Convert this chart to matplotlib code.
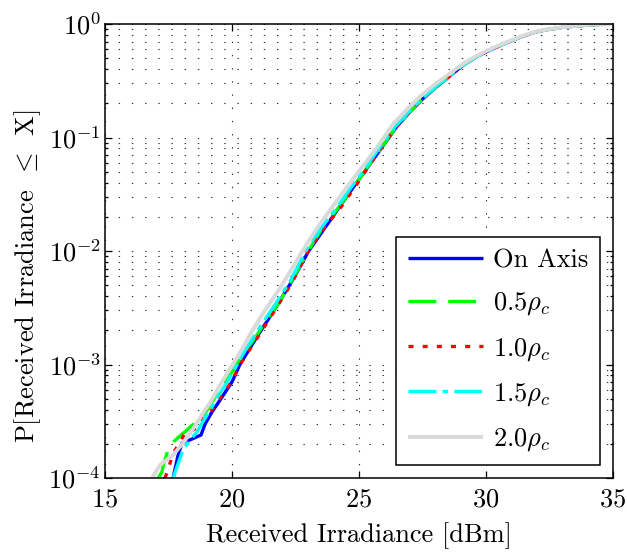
import numpy as np
import matplotlib
matplotlib.use("Agg")
import matplotlib.pyplot as plt
from matplotlib.ticker import LogLocator, FixedLocator, NullLocator

# ---------------- data ----------------
labels = ["On Axis", r"$0.5\rho_c$", r"$1.0\rho_c$", r"$1.5\rho_c$", r"$2.0\rho_c$"]

x_on_axis = [17.68, 17.87, 18.03, 18.43, 18.78, 18.94, 19.21, 19.53, 20.00, 20.31, 21.00,
             21.72, 22.40, 23.02, 23.80, 24.58, 25.38, 26.18, 26.48, 27.01, 27.53, 28.06,
             28.58, 29.11, 29.63, 30.16, 30.81, 31.47, 31.99, 32.40, 33.00, 33.70, 34.30, 35.00]
logp_on_axis = [-4.0, -3.806, -3.692, -3.656, -3.621, -3.524, -3.419, -3.313, -3.154, -3.0, -2.75,
                -2.5, -2.25, -2.0, -1.75, -1.5, -1.25, -1.0, -0.905, -0.773, -0.655, -0.552,
                -0.458, -0.361, -0.288, -0.229, -0.165, -0.106, -0.068, -0.050, -0.030, -0.015, -0.005, 0.0]

x_05 = [17.09, 17.24, 17.30, 17.48, 17.70, 17.95, 18.23, 18.40, 18.70, 18.94, 19.30, 19.62,
        20.02, 20.40, 20.80, 21.10, 21.45, 21.87, 22.38, 23.00, 23.55, 24.22, 24.90, 25.82,
        26.47, 27.00, 27.52, 28.05, 28.57, 29.10, 29.62, 30.15, 30.80, 31.46, 31.99, 32.40,
        33.00, 33.70, 34.30, 35.00]
logp_05 = [-4.0, -3.947, -3.885, -3.753, -3.68, -3.63, -3.577, -3.54, -3.50, -3.43, -3.30, -3.19,
           -3.06, -2.92, -2.80, -2.70, -2.58, -2.45, -2.25, -2.0, -1.80, -1.61, -1.40, -1.11,
           -0.905, -0.773, -0.655, -0.552, -0.458, -0.361, -0.288, -0.229, -0.165, -0.106, -0.068, -0.050,
           -0.030, -0.015, -0.005, 0.0]

x_10 = [17.36, 17.48, 17.68, 17.95, 18.15, 18.46, 18.66, 18.86, 19.20, 19.52, 19.98, 20.40,
        21.07, 21.86, 22.38, 23.00, 23.62, 24.30, 24.95, 25.81, 26.47, 27.00, 27.52, 28.05,
        28.57, 29.10, 29.62, 30.15, 30.80, 31.46, 31.99, 32.40, 33.00, 33.70, 34.30, 35.00]
logp_10 = [-4.0, -3.93, -3.78, -3.69, -3.60, -3.577, -3.55, -3.46, -3.40, -3.30, -3.15, -2.97,
           -2.74, -2.46, -2.27, -2.0, -1.80, -1.61, -1.40, -1.11, -0.905, -0.773, -0.655, -0.552,
           -0.458, -0.361, -0.288, -0.229, -0.165, -0.106, -0.068, -0.050, -0.030, -0.015, -0.005, 0.0]

x_15 = [17.68, 17.83, 18.07, 18.35, 18.62, 18.82, 19.02, 19.40, 19.85, 20.35, 21.02, 21.61,
        22.28, 22.90, 23.50, 24.15, 24.82, 25.75, 26.42, 26.97, 27.50, 28.03, 28.56, 29.09,
        29.62, 30.15, 30.80, 31.46, 31.98, 32.40, 33.00, 33.70, 34.30, 35.00]
logp_15 = [-4.0, -3.903, -3.753, -3.665, -3.595, -3.515, -3.445, -3.30, -3.14, -2.94, -2.696, -2.50,
           -2.27, -2.0, -1.80, -1.61, -1.40, -1.11, -0.905, -0.773, -0.655, -0.552, -0.458, -0.361,
           -0.288, -0.229, -0.165, -0.106, -0.068, -0.050, -0.030, -0.015, -0.005, 0.0]

x_20 = [16.85, 17.17, 17.68, 18.07, 18.35, 18.62, 18.86, 19.13, 19.65, 20.45, 20.75, 21.25,
        21.92, 22.78, 23.30, 23.95, 24.65, 25.70, 26.35, 26.92, 27.45, 28.00, 28.55, 29.10,
        29.63, 30.16, 30.81, 31.47, 31.99, 32.40, 33.00, 33.70, 34.20, 35.00]
logp_20 = [-4.0, -3.885, -3.797, -3.692, -3.604, -3.515, -3.427, -3.339, -3.137, -2.846, -2.72, -2.54,
           -2.317, -2.0, -1.815, -1.612, -1.40, -1.09, -0.88, -0.745, -0.63, -0.53, -0.44, -0.35,
           -0.28, -0.222, -0.160, -0.102, -0.066, -0.048, -0.028, -0.013, -0.004, 0.0]

x_ticks = [15, 20, 25, 30, 35]

# ---------------- style ----------------
plt.rcParams.update({
    "font.family": "serif",
    "font.serif": ["cmr10"],
    "mathtext.fontset": "cm",
    "axes.formatter.use_mathtext": True,
    "font.size": 19,
    "lines.scale_dashes": False,
    "axes.unicode_minus": True,
})

fig = plt.figure(figsize=(6.27, 5.52), dpi=100)
ax = fig.add_axes([105 / 627, 74 / 552, 508 / 627, 454 / 552])

series = [
    (x_on_axis, logp_on_axis, dict(color=(0, 0, 1), lw=2.4, linestyle="-")),
    (x_05, logp_05, dict(color=(0, 1, 0), lw=2.4, linestyle=(0, (20, 8.6)))),
    (x_10, logp_10, dict(color=(1, 0, 0), lw=2.4, linestyle=(0, (3.6, 6.6)))),
    (x_15, logp_15, dict(color=(0, 1, 1), lw=2.4, linestyle=(0, (20, 4.5, 4, 4.5)))),
    (x_20, logp_20, dict(color=(0.85, 0.85, 0.85), lw=2.8, linestyle="-")),
]
for (xs, lp, st), lab in zip(series, labels):
    ax.plot(xs, 10.0 ** np.asarray(lp), label=lab, solid_capstyle="butt",
            dash_capstyle="butt", **st)

ax.set_yscale("log")
ax.set_xlim(15, 35)
ax.set_ylim(1e-4, 1)
ax.xaxis.set_major_locator(FixedLocator(x_ticks))
ax.xaxis.set_minor_locator(NullLocator())
ax.yaxis.set_major_locator(LogLocator(base=10, numticks=10))
ax.yaxis.set_minor_locator(LogLocator(base=10, subs=np.arange(2, 10), numticks=20))

grid_style = dict(color="0.2", linewidth=0.8, linestyle=(0, (1.0, 8.5)))
ax.grid(True, which="major", axis="both", **grid_style)
ax.grid(True, which="minor", axis="y", **grid_style)
ax.set_axisbelow(True)

ax.tick_params(which="both", direction="in", top=True, right=True, width=0.9)
ax.tick_params(which="major", length=5, labelsize=19)
ax.tick_params(axis="x", which="major", pad=7)
ax.tick_params(axis="y", which="major", pad=3)
ax.tick_params(which="minor", length=2.5)
for sp in ax.spines.values():
    sp.set_linewidth(1.1)

ax.set_xlabel("Received Irradiance [dBm]", fontsize=19, labelpad=8)
ax.set_ylabel(r"P[Received Irradiance $\,\leq\,$ X]", fontsize=19)
ax.yaxis.set_label_coords(-0.122, 0.445)

leg = ax.legend(loc="lower right", bbox_to_anchor=(0.974, 0.0286), borderaxespad=0,
                fancybox=False, framealpha=1, edgecolor="k", fontsize=19,
                handlelength=2.85, labelspacing=0.7, handletextpad=0.35,
                borderpad=0.45)
leg.get_frame().set_linewidth(1.1)

fig.savefig("out.png", dpi=100)
